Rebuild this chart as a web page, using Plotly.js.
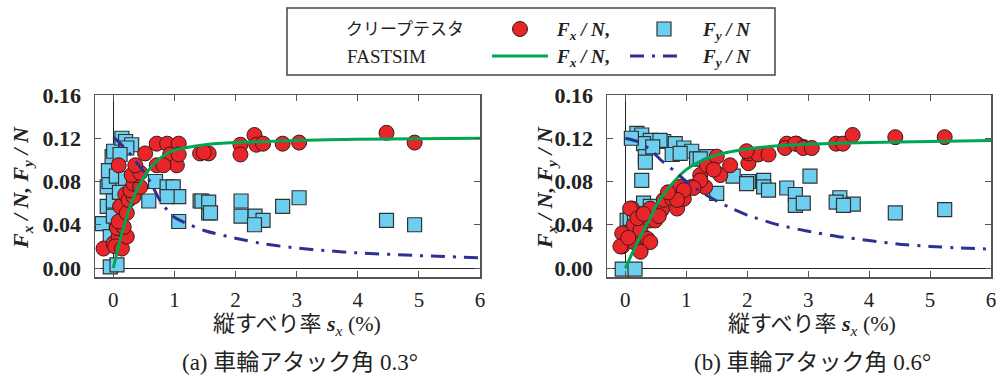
<!DOCTYPE html>
<html><head><meta charset="utf-8">
<script src="https://cdn.plot.ly/plotly-3.0.1.min.js"></script>
<style>html,body{margin:0;padding:0;background:#fff}#chart{width:1000px;height:378px}</style>
</head><body><div id="chart"></div>
<script>
// ---------- DATA ----------
// (a) attack angle 0.3 deg — creep tester measurements
var aTestFxS = [-0.16,0.005,0.087,0.03,0.14,0.22,0.06,0.17,0.087,0.11,0.22,0.196,0.25,0.33,0.28,0.33,0.44,0.39,0.30,0.44,0.36,0.087,0.52,0.71,0.88,1.07,0.93,1.04,0.71,0.82,1.07,1.42,1.56,1.48,2.08,2.08,2.31,2.34,2.45,2.77,3.04,4.47,4.93];
var aTestFx  = [0.018,0.023,0.029,0.020,0.018,0.029,0.037,0.038,0.043,0.057,0.051,0.068,0.063,0.066,0.072,0.078,0.075,0.086,0.086,0.088,0.095,0.095,0.106,0.115,0.115,0.115,0.105,0.095,0.095,0.095,0.105,0.106,0.106,0.107,0.114,0.105,0.123,0.114,0.115,0.115,0.116,0.125,0.116];
var aTestFyS = [-0.05,0.06,-0.18,-0.1,-0.1,-0.07,0.03,-0.02,0.005,0.14,0.2,0.3,0.22,0.11,-0.05,-0.08,0.05,0.0,0.1,0.0,0.2,0.58,0.69,0.88,0.98,1.07,0.88,1.07,1.42,1.56,1.45,1.56,1.59,2.09,2.09,2.32,2.45,2.31,2.77,3.04,4.47,4.93];
var aTestFy  = [0.001,0.003,0.041,0.057,0.075,0.080,0.100,0.103,0.108,0.120,0.117,0.114,0.111,0.105,0.029,0.090,0.085,0.062,0.070,0.048,0.083,0.062,0.080,0.075,0.075,0.066,0.066,0.043,0.062,0.051,0.062,0.061,0.051,0.062,0.048,0.048,0.044,0.040,0.057,0.065,0.044,0.040];
// (a) FASTSIM
var aSimFxS = [0,0.05,0.1,0.2,0.3,0.4,0.5,0.6,0.8,1.0,1.25,1.5,2,2.5,3,4,5,6];
var aSimFx  = [0,0.012,0.024,0.044,0.061,0.074,0.084,0.092,0.103,0.109,0.112,0.114,0.116,0.117,0.118,0.119,0.1195,0.120];
var aSimFyS = [0,0.1,0.2,0.3,0.4,0.5,0.6,0.8,1.0,1.25,1.5,2,2.5,3,3.5,4,5,6];
var aSimFy  = [0.121,0.116,0.110,0.104,0.096,0.089,0.080,0.059,0.047,0.040,0.0345,0.0275,0.022,0.0185,0.016,0.014,0.0115,0.0095];

// (b) attack angle 0.6 deg — creep tester measurements
var bTestFxS = [0.11,-0.05,-0.05,0.14,0.14,0.25,0.25,0.36,0.41,0.41,0.41,0.49,0.6,0.63,0.77,0.85,0.96,0.9,1.09,1.23,1.31,1.34,1.5,1.56,1.72,2.02,2.02,0.08,0.41,-0.08,0.25,2.18,2.35,1.99,2.65,2.81,2.92,1.45,1.23,1.12,0.96,0.85,2.62,2.79,2.92,3.06,3.46,3.57,3.73,4.43,5.24,0.05,0.2,0.3,0.55,0.7];
var bTestFx  = [0.055,0.020,0.032,0.040,0.024,0.017,0.035,0.027,0.024,0.044,0.054,0.044,0.054,0.063,0.064,0.055,0.064,0.075,0.075,0.086,0.075,0.095,0.103,0.086,0.095,0.097,0.106,0.055,0.055,0.020,0.015,0.105,0.105,0.108,0.115,0.115,0.112,0.091,0.081,0.074,0.072,0.063,0.111,0.115,0.111,0.111,0.115,0.115,0.123,0.121,0.121,0.028,0.046,0.050,0.048,0.070];
var bTestFyS = [-0.05,0.16,0.27,0.19,0.27,0.41,0.3,0.33,0.33,0.63,0.82,0.77,0.96,1.09,1.17,1.34,1.5,1.77,2.02,2.27,2.27,2.35,2.65,2.79,2.79,2.92,3.03,0.03,0.3,0.57,0.9,1.23,1.99,0.08,0.41,3.52,3.46,3.74,3.58,4.43,5.24,0.1,0.45,0.15];
var bTestFy  = [-0.001,-0.001,0.081,0.1245,0.123,0.118,0.115,0.103,0.098,0.117,0.115,0.105,0.111,0.108,0.101,0.103,0.069,0.085,0.080,0.081,0.075,0.072,0.074,0.068,0.058,0.060,0.085,0.044,0.060,0.118,0.106,0.101,0.078,0.046,0.057,0.065,0.061,0.059,0.058,0.051,0.054,0.120,0.112,0.050];
// (b) FASTSIM
var bSimFxS = [0,0.1,0.2,0.3,0.4,0.5,0.6,0.8,1.0,1.25,1.5,2,2.5,3,4,5,6];
var bSimFx  = [0,0.012,0.024,0.035,0.045,0.057,0.066,0.080,0.091,0.099,0.1045,0.110,0.113,0.1145,0.116,0.117,0.118];
var bSimFyS = [0,0.2,0.4,0.6,0.8,1.0,1.25,1.5,1.75,2,2.5,3,3.5,4,4.5,5,5.5,6];
var bSimFy  = [0.120,0.117,0.110,0.099,0.090,0.080,0.070,0.062,0.055,0.049,0.040,0.034,0.029,0.0255,0.022,0.020,0.0185,0.0175];

var xTickVals = [0,1,2,3,4,5,6];
var xTickText = ['0','1','2','3','4','5','6'];
var yTickVals = [0,0.04,0.08,0.12,0.16];
var yTickText = ['0.00','0.04','0.08','0.12','0.16'];

var legendTest = 'クリープテスタ';
var legendSim = 'FASTSIM';
var xTitle = '縦すべり率 <i><b>s</b><sub>x</sub></i> (%)';
var yTitle = '<i>F<sub>x</sub> / N, F<sub>y</sub> / N</i>';
var subA = '(a) 車輪アタック角 0.3°';
var subB = '(b) 車輪アタック角 0.6°';
var fxLab = '<i>F<sub>x</sub> / N</i>,';
var fyLab = '<i>F<sub>y</sub> / N</i>';

// ---------- STYLE ----------
var RED = '#E8262A', SKY = '#6DCFF0', GREEN = '#00A651', NAVY = '#2E3192';
var W = 1000, H = 378;
function px(v){return v/W;}
function py(v){return 1 - v/H;}
var serif = '"Liberation Serif", "Noto Sans CJK JP", serif';

function sq(x,y,xa,ya){return {type:'scatter',mode:'markers',x:x,y:y,xaxis:xa,yaxis:ya,
  marker:{symbol:'square',size:14,color:SKY,line:{color:'#333',width:1.2}},hoverinfo:'skip'};}
function ci(x,y,xa,ya){return {type:'scatter',mode:'markers',x:x,y:y,xaxis:xa,yaxis:ya,
  marker:{symbol:'circle',size:15,color:RED,line:{color:'#3a1a1a',width:1}},hoverinfo:'skip'};}
function gl(x,y,xa,ya){return {type:'scatter',mode:'lines',x:x,y:y,xaxis:xa,yaxis:ya,line:{color:GREEN,width:3,shape:'spline',smoothing:0.6},hoverinfo:'skip'};}
function bl(x,y,xa,ya){return {type:'scatter',mode:'lines',x:x,y:y,xaxis:xa,yaxis:ya,line:{color:NAVY,width:3,dash:'14px,8px,3px,8px',shape:'spline',smoothing:0.6},hoverinfo:'skip'};}

var data = [
  sq(aTestFyS,aTestFy,'x','y'), ci(aTestFxS,aTestFx,'x','y'), gl(aSimFxS,aSimFx,'x','y'), bl(aSimFyS,aSimFy,'x','y'),
  sq(bTestFyS,bTestFy,'x2','y2'), ci(bTestFxS,bTestFx,'x2','y2'), gl(bSimFxS,bSimFx,'x2','y2'), bl(bSimFyS,bSimFy,'x2','y2')
];

function xax(dom,anchor){return {domain:dom,anchor:anchor,range:[-0.3,6],tickvals:xTickVals,ticktext:xTickText,
  ticks:'inside',ticklen:6,tickwidth:1,tickcolor:'#555',showline:true,linecolor:'#555',linewidth:1.5,mirror:'ticks',
  zeroline:true,zerolinecolor:'#222',zerolinewidth:1,showgrid:false,fixedrange:true,ticklabelstandoff:3,
  tickfont:{family:serif,size:21,color:'#222'}};}
function yax(anchor){return {domain:[py(277),py(95)],anchor:anchor,range:[-0.0083,0.16],tickvals:yTickVals,ticktext:yTickText,
  ticks:'inside',ticklen:6,tickwidth:1,tickcolor:'#555',showline:true,linecolor:'#555',linewidth:1.5,mirror:'ticks',
  zeroline:true,zerolinecolor:'#222',zerolinewidth:1,showgrid:false,fixedrange:true,ticklabelstandoff:8,
  tickfont:{family:serif,size:22,color:'#222',weight:'bold'}};}

function ann(text,x,y,font,opts){var a={text:text,x:px(x),y:py(y),xref:'paper',yref:'paper',showarrow:false,
  xanchor:'center',yanchor:'middle',font:font};
  if(opts){for(var k in opts){a[k]=opts[k];}} return a;}
var fTitleY = {family:serif,size:22,color:'#222',weight:'bold'};
var fXT = {family:serif,size:22,color:'#222'};
var fSub = {family:serif,size:23,color:'#222'};
var fLegCjk = {family:serif,size:17,color:'#222'};
var fLegSer = {family:serif,size:19,color:'#222'};
var fLegF = {family:serif,size:19,color:'#222',weight:'bold'};

var annotations = [
  ann(yTitle,22,188,fTitleY,{textangle:-90}),
  ann(yTitle,546,188,fTitleY,{textangle:-90}),
  ann(xTitle,297,325,fXT),
  ann(xTitle,812,325,fXT),
  ann(subA,300,362,fSub),
  ann(subB,812,362,fSub),
  ann(legendTest,405,29,fLegCjk),
  ann(legendSim,386,56,fLegSer),
  ann(fxLab,583,31,fLegF),
  ann(fyLab,726,31,fLegF),
  ann(fxLab,583,58,fLegF),
  ann(fyLab,726,58,fLegF)
];

var shapes = [
  {type:'rect',xref:'paper',yref:'paper',x0:px(287),x1:px(775),y0:py(75),y1:py(8),line:{color:'#444',width:1.5},fillcolor:'rgba(0,0,0,0)'},
  {type:'circle',xref:'paper',yref:'paper',x0:px(512.5),x1:px(527.5),y0:py(36.5),y1:py(21.5),line:{color:'#3a1a1a',width:1},fillcolor:RED},
  {type:'rect',xref:'paper',yref:'paper',x0:px(657),x1:px(671),y0:py(36),y1:py(22),line:{color:'#333',width:1.2},fillcolor:SKY},
  {type:'line',xref:'paper',yref:'paper',x0:px(492),x1:px(548),y0:py(56),y1:py(56),line:{color:GREEN,width:3}},
  {type:'line',xref:'paper',yref:'paper',x0:px(630),x1:px(682),y0:py(56),y1:py(56),line:{color:NAVY,width:3,dash:'14px,8px,3px,8px'}}
];

var layout = {
  width:W,height:H,margin:{l:0,r:0,t:0,b:0},paper_bgcolor:'#fff',plot_bgcolor:'#fff',showlegend:false,
  font:{family:serif},
  xaxis:xax([px(95),px(480)],'y'), yaxis:yax('x'),
  xaxis2:xax([px(607),px(991)],'y2'), yaxis2:yax('x2'),
  annotations:annotations, shapes:shapes
};
Plotly.newPlot('chart',data,layout,{displayModeBar:false,staticPlot:true});
</script></body></html>
